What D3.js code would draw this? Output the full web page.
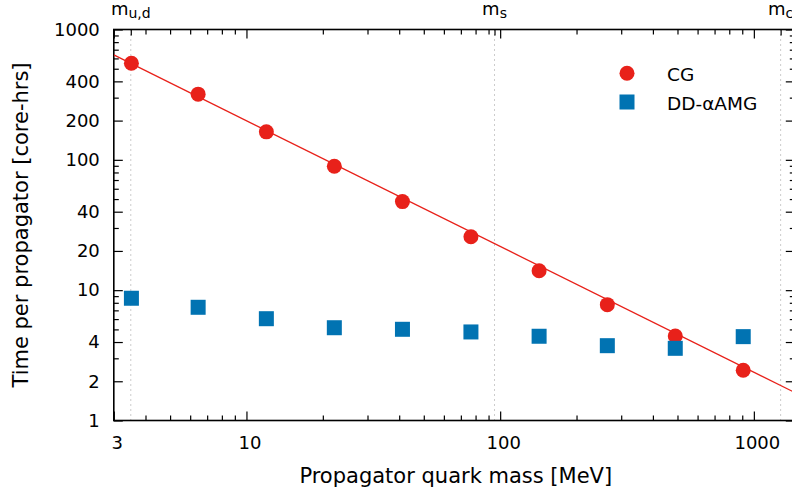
<!DOCTYPE html>
<html>
<head>
<meta charset="utf-8">
<script src="https://cdn.jsdelivr.net/npm/d3@7"></script>
<style>
  body { margin: 0; background: #fff; }
  text { font-family: "DejaVu Sans", sans-serif; fill: #000; }
</style>
</head>
<body>
<svg id="chart" width="792" height="492"></svg>
<script>
// Propagator quark mass (MeV) for each solver run
const massMeV = [3.52, 6.45, 11.98, 22.2, 41.2, 76.7, 142.4, 264.5, 490, 908];
// Time per propagator (core-hrs)
const cgTime = [551, 319, 164, 89.3, 47.8, 25.7, 14.1, 7.74, 4.45, 2.43];
const ddTime = [8.67, 7.39, 6.04, 5.15, 5.01, 4.78, 4.43, 3.75, 3.58, 4.40];
// Power-law fit to CG (straight on log-log axes): end points
const fitMass = [3, 1450];
const fitTime = [638, 1.64];
// Physical quark masses marked on the top axis
const quarkMass = [3.5, 95, 1275];
const quarkSub = ["u,d", "s", "c"];
// Axis ticks
const xMajor = [3, 10, 100, 1000];
const xMinor = [4, 5, 6, 7, 8, 9, 20, 30, 40, 50, 60, 70, 80, 90, 200, 300, 400, 500, 600, 700, 800, 900];
const yMajor = [1, 2, 4, 10, 20, 40, 100, 200, 400, 1000];
const yMinor = [3, 5, 6, 7, 8, 9, 30, 50, 60, 70, 80, 90, 300, 500, 600, 700, 800, 900];
const seriesNames = ["CG", "DD-\u03b1AMG"];

const RED = "#e8211a";
const BLUE = "#0173b2";

const svg = d3.select("#chart");
svg.append("rect").attr("width", 792).attr("height", 492).attr("fill", "#fff");

const pLeft = 113.8, pRight = 794.8, pTop = 29.5, pBottom = 420.5;
const x = d3.scaleLog().domain([3, 1450]).range([pLeft, pRight]);
const y = d3.scaleLog().domain([1, 1000]).range([pBottom, pTop]);

svg.append("defs").append("clipPath").attr("id", "plotclip")
  .append("rect").attr("x", pLeft).attr("y", pTop)
  .attr("width", pRight - pLeft).attr("height", pBottom - pTop);

// Quark-mass reference lines
svg.append("g").selectAll("line").data(quarkMass).join("line")
  .attr("x1", d => x(d)).attr("x2", d => x(d))
  .attr("y1", pTop).attr("y2", pBottom)
  .attr("stroke", "#999").attr("stroke-width", 1)
  .attr("stroke-dasharray", "1,4");

function styleAxis(g) {
  g.select(".domain").remove();
  g.selectAll(".tick line").attr("stroke", "#000").attr("stroke-width", 1.2);
  g.selectAll(".tick text").style("font-size", "18px");
}

// Bottom axis
svg.append("g").attr("transform", `translate(0,${pBottom})`)
  .call(d3.axisBottom(x).tickValues(xMinor).tickSize(-5).tickFormat(""))
  .call(styleAxis);
svg.append("g").attr("transform", `translate(0,${pBottom})`)
  .call(d3.axisBottom(x).tickValues(xMajor).tickSize(-9).tickPadding(16).tickFormat(d3.format("d")))
  .call(styleAxis)
  .selectAll(".tick text").attr("dx", 3);

// Top axis (mirrored ticks + quark-mass ticks)
svg.append("g").attr("transform", `translate(0,${pTop})`)
  .call(d3.axisTop(x).tickValues(xMinor).tickSize(-5).tickFormat(""))
  .call(styleAxis);
svg.append("g").attr("transform", `translate(0,${pTop})`)
  .call(d3.axisTop(x).tickValues(xMajor).tickSize(-9).tickFormat(""))
  .call(styleAxis);
svg.append("g").attr("transform", `translate(0,${pTop})`)
  .call(d3.axisTop(x).tickValues(quarkMass).tickSize(-6).tickFormat(""))
  .call(styleAxis);

// Quark-mass labels
const qLab = svg.append("g").selectAll("text").data(quarkMass).join("text")
  .attr("x", d => x(d)).attr("y", 15)
  .attr("text-anchor", "middle");
qLab.append("tspan").style("font-size", "18px").text("m");
qLab.append("tspan").style("font-size", "14px").attr("dy", 2.5)
  .text((d, i) => quarkSub[i]);

// Left axis
svg.append("g").attr("transform", `translate(${pLeft},0)`)
  .call(d3.axisLeft(y).tickValues(yMinor).tickSize(-5).tickFormat(""))
  .call(styleAxis);
svg.append("g").attr("transform", `translate(${pLeft},0)`)
  .call(d3.axisLeft(y).tickValues(yMajor).tickSize(-9).tickPadding(14).tickFormat(d3.format("d")))
  .call(styleAxis);

// Right axis (mirrored)
svg.append("g").attr("transform", `translate(${pRight},0)`)
  .call(d3.axisRight(y).tickValues(yMinor).tickSize(-5).tickFormat(""))
  .call(styleAxis);
svg.append("g").attr("transform", `translate(${pRight},0)`)
  .call(d3.axisRight(y).tickValues(yMajor).tickSize(-9).tickFormat(""))
  .call(styleAxis);

// Frame
svg.append("rect").attr("x", pLeft).attr("y", pTop)
  .attr("width", pRight - pLeft).attr("height", pBottom - pTop)
  .attr("fill", "none").attr("stroke", "#000").attr("stroke-width", 1.6);

// Fit line
const plot = svg.append("g").attr("clip-path", "url(#plotclip)");
plot.append("path")
  .datum(fitMass.map((m, i) => [m, fitTime[i]]))
  .attr("d", d3.line().x(d => x(d[0])).y(d => y(d[1])))
  .attr("fill", "none").attr("stroke", RED).attr("stroke-width", 1.3);

// CG points
plot.append("g").selectAll("circle").data(massMeV).join("circle")
  .attr("cx", d => x(d)).attr("cy", (d, i) => y(cgTime[i]))
  .attr("r", 7.5).attr("fill", RED);

// DD-αAMG points
const sq = 15;
plot.append("g").selectAll("rect").data(massMeV).join("rect")
  .attr("x", d => x(d) - sq / 2).attr("y", (d, i) => y(ddTime[i]) - sq / 2)
  .attr("width", sq).attr("height", sq).attr("fill", BLUE);

// Legend
const lg = svg.append("g");
lg.append("circle").attr("cx", 627).attr("cy", 73.3).attr("r", 7.5).attr("fill", RED);
lg.append("rect").attr("x", 627 - sq / 2).attr("y", 102 - sq / 2)
  .attr("width", sq).attr("height", sq).attr("fill", BLUE);
lg.append("text").attr("x", 667).attr("y", 80.7).style("font-size", "18.5px").text(seriesNames[0]);
lg.append("text").attr("x", 667).attr("y", 109.5).style("font-size", "18.5px").text(seriesNames[1]);

// Axis titles
svg.append("text").attr("x", (pLeft + pRight) / 2 + 1.5).attr("y", 483)
  .attr("text-anchor", "middle").style("font-size", "21px")
  .text("Propagator quark mass [MeV]");
svg.append("text")
  .attr("transform", `translate(28,${(pTop + pBottom) / 2}) rotate(-90)`)
  .attr("text-anchor", "middle").style("font-size", "21px")
  .text("Time per propagator [core-hrs]");
</script>
</body>
</html>
